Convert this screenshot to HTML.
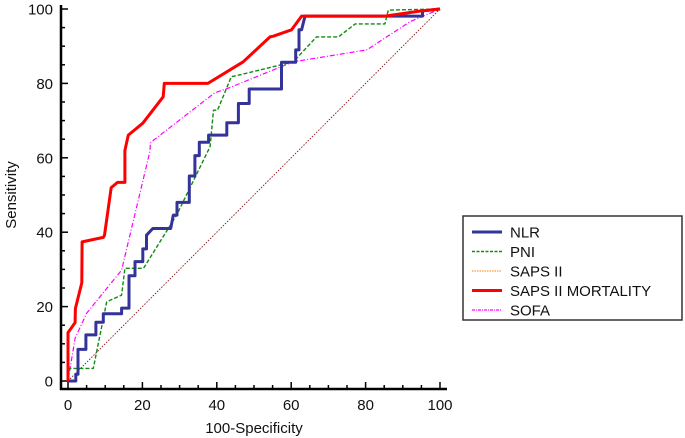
<!DOCTYPE html>
<html><head><meta charset="utf-8"><style>
body{margin:0;background:#fff;}
svg{display:block;font-family:"Liberation Sans",Arial,sans-serif;}
</style></head><body>
<svg id="chart" width="685" height="438" viewBox="0 0 685 438" xmlns="http://www.w3.org/2000/svg">
<g id="axes"></g>
<g id="series"></g>
<g id="legend"></g>
</svg>
<script>
const xTicks=[0,20,40,60,80,100];
const yTicks=[0,20,40,60,80,100];
const seriesNames=["NLR","PNI","SAPS II","SAPS II MORTALITY","SOFA"];
const diagX=[0,100];
const diagY=[0,100];
const nlrX=[0,2.1,2.1,2.7,2.7,4.8,4.8,7.5,7.5,9.5,9.5,14.4,14.4,16.4,16.4,18,18,20.1,20.1,21.1,21.1,22.8,27.6,28.3,29.3,29.3,32.6,32.6,34.1,34.1,35.3,35.3,37.8,37.8,42.7,42.7,45.8,45.8,48.7,48.7,57.4,57.4,61.2,61.2,62.1,62.1,62.8,63.7,95.3,95.3,100];
const nlrY=[0,0,1.8,1.8,8.5,8.5,12.4,12.4,15.8,15.8,18.1,18.1,19.6,19.6,28.3,28.3,32.1,32.1,35.5,35.5,39.2,41,41,44.6,44.6,48,48,55.1,55.1,60.6,60.6,64.2,64.2,66.1,66.1,69.4,69.4,74.6,74.6,78.5,78.5,85.7,85.7,89,89,94.4,94.4,98.1,98.1,99.5,100];
const pniX=[0,0,6.8,10.4,14.4,15.3,20.3,29.2,38.2,39.1,40.2,43.9,45.8,60.6,66.8,72.7,77.2,85.2,86.1,100];
const pniY=[0,3.4,3.4,21.3,23.1,30.3,30.3,44.6,63,72.8,72.8,81.8,82.2,85.8,92.5,92.5,96,96,99.7,100];
const sapsX=[0,0,1.9,2,3.7,3.8,9.5,9.8,11.6,13.3,15.3,15.3,16.2,20.1,25.6,25.9,37.6,47.1,54.3,55.2,60.1,62.8,85.2,95,100];
const sapsY=[0,13,15.7,19.5,26.4,37.4,38.6,39.2,52,53.4,53.4,62,66.1,69.3,76.4,80,80,85.8,92.5,92.7,94.4,98.1,98.1,99.5,100];
const mortX=[0,0,1.9,2,3.7,3.8,9.5,9.8,11.6,13.3,15.3,15.3,16.2,20.1,25.6,25.9,37.6,47.1,54.3,55.2,60.1,62.8,85.2,95,100];
const mortY=[0,13,15.7,19.5,26.4,37.4,38.6,39.2,52,53.4,53.4,62,66.1,69.3,76.4,80,80,85.8,92.5,92.7,94.4,98.1,98.1,99.5,100];
const sofaX=[0,1.9,5,14.4,22,22.2,39.5,43.1,60.6,80.3,92,100];
const sofaY=[0,11.5,18.2,29.8,61.6,64.1,77.5,78.7,85.8,89,96.6,100];

const X0=68,X1=440,Y0=381,Y1=9;
const sx=v=>X0+(X1-X0)*v/100;
const sy=v=>Y0-(Y0-Y1)*v/100;
const NS="http://www.w3.org/2000/svg";
function mk(t,a,p){const e=document.createElementNS(NS,t);for(const k in a)e.setAttribute(k,a[k]);p.appendChild(e);return e;}
const axes=document.getElementById('axes');
let e=mk('line',{x1:61,y1:5,x2:61,y2:390,stroke:'#000','stroke-width':2.5},axes);


e=mk('line',{x1:60,y1:389,x2:447,y2:389,stroke:'#000','stroke-width':2.5},axes);


for(let v=0;v<=100;v+=5){
  const major=v%20===0;
  mk('line',{x1:61,y1:sy(v),x2:61+(major?7:4),y2:sy(v),stroke:'#000','stroke-width':1.5},axes);
  mk('line',{x1:sx(v),y1:389,x2:sx(v),y2:389-(major?7:4),stroke:'#000','stroke-width':1.5},axes);
}
yTicks.forEach(v=>{const t=mk('text',{x:53,y:sy(v)+5.5,'text-anchor':'end','font-size':15,fill:'#111'},axes);t.textContent=v;

});
xTicks.forEach(v=>{const t=mk('text',{x:sx(v),y:410,'text-anchor':'middle','font-size':15,fill:'#111'},axes);t.textContent=v;

});
let t=mk('text',{x:254,y:433,'text-anchor':'middle','font-size':15,fill:'#111'},axes);t.textContent='100-Specificity';


t=mk('text',{x:0,y:0,'text-anchor':'middle','font-size':15,fill:'#111',transform:'translate(16,195) rotate(-90)'},axes);t.textContent='Sensitivity';



const ser=document.getElementById('series');
function line(xs,ys,st,name){const d=xs.map((x,i)=>(i?'L':'M')+sx(x).toFixed(1)+','+sy(ys[i]).toFixed(1)).join(' ');
const p=mk('path',Object.assign({d:d,fill:'none','stroke-linejoin':'round'},st),ser);

}
line(diagX,diagY,{stroke:'#8b2a2a','stroke-width':1,'stroke-dasharray':'1.5,1.5'},'reference-diagonal');
line(sofaX,sofaY,{stroke:'#ff00ff','stroke-width':1.2,'stroke-dasharray':'5,2,1,2'},'sofa-line');
line(pniX,pniY,{stroke:'#138a13','stroke-width':1.4,'stroke-dasharray':'4,2'},'pni-line');
line(nlrX,nlrY,{stroke:'#333399','stroke-width':3},'nlr-line');
line(sapsX,sapsY,{stroke:'#ff9933','stroke-width':1,'stroke-dasharray':'1.5,1.5'},'saps-ii-line');
line(mortX,mortY,{stroke:'#ff0000','stroke-width':3},'saps-ii-mortality-line');

const lg=document.getElementById('legend');
e=mk('rect',{x:463,y:216,width:219,height:104,fill:'#fff',stroke:'#333','stroke-width':1.5},lg);


const lst=[{stroke:'#333399','stroke-width':3},{stroke:'#138a13','stroke-width':1.4,'stroke-dasharray':'3,1.5'},{stroke:'#ff9933','stroke-width':1.2,'stroke-dasharray':'1.5,1'},{stroke:'#ff0000','stroke-width':3},{stroke:'#ff00ff','stroke-width':1.2,'stroke-dasharray':'3,1,1,1'}];
seriesNames.forEach((n,i)=>{const y=232+i*19.5;
const g=mk('g',{},lg);


mk('line',Object.assign({x1:472,y1:y,x2:502,y2:y},lst[i]),g);
const tt=mk('text',{x:510,y:y+5.5,'font-size':15,fill:'#111'},g);tt.textContent=n;});
</script>
</body></html>
